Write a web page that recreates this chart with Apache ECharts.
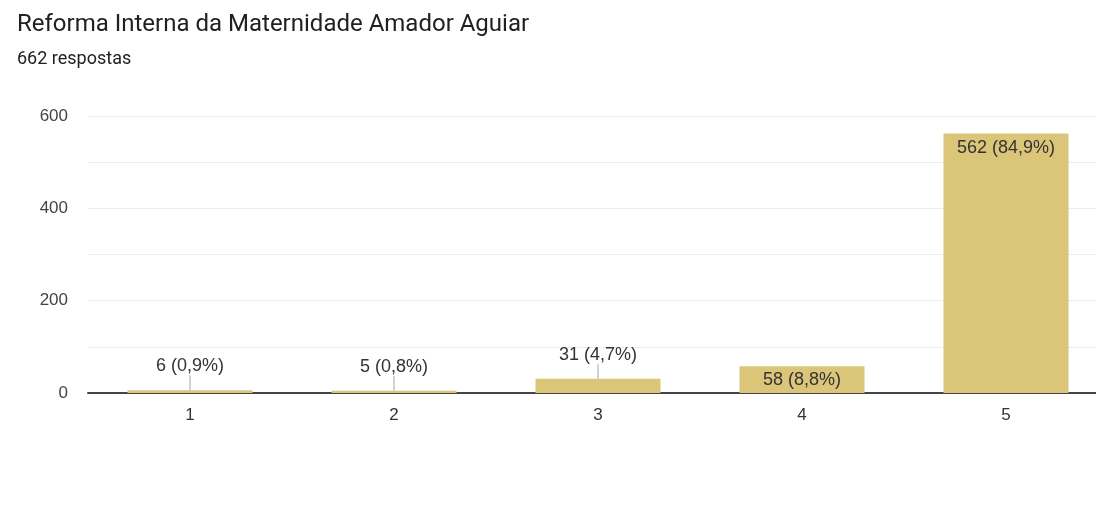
<!DOCTYPE html>
<html>
<head>
<meta charset="utf-8">
<script src="https://cdn.jsdelivr.net/npm/echarts@6/dist/echarts.min.js"></script>
<style>
html,body{margin:0;padding:0;background:#fff;}
#main{width:1096px;height:506px;}
</style>
</head>
<body>
<div id="main"></div>
<script>
var categories = ['1', '2', '3', '4', '5'];
var counts = [6, 5, 31, 58, 562];
var percents = ['0,9%', '0,8%', '4,7%', '8,8%', '84,9%'];
var yTicks = [0, 200, 400, 600];

var chart = echarts.init(document.getElementById('main'));
var font = '"Liberation Sans", Arial, sans-serif';

var data = counts.map(function (v, i) {
  var outside = v < 40;
  var d = { value: v };
  if (outside) {
    d.label = {
      position: 'top',
      distance: 0,
      formatter: '{t|' + v + ' (' + percents[i] + ')}\n{l|}',
      rich: {
        t: { fontSize: 18, color: '#333', fontFamily: font, lineHeight: 18, align: 'center' },
        l: { width: 1, height: 15, backgroundColor: '#a8a8a8', align: 'center' }
      }
    };
  } else {
    d.label = {
      position: 'insideTop',
      distance: 5,
      formatter: v + ' (' + percents[i] + ')'
    };
  }
  return d;
});

chart.setOption({
  animation: false,
  title: {
    text: 'Reforma Interna da Maternidade Amador Aguiar',
    subtext: '662 respostas',
    left: 12,
    top: 8,
    itemGap: 13,
    textStyle: { fontFamily: 'Roboto, sans-serif', fontSize: 24, fontWeight: 'normal', color: '#202124' },
    subtextStyle: { fontFamily: 'Roboto, sans-serif', fontSize: 18, color: '#202124' }
  },
  grid: { left: 88, width: 1020, top: 116, height: 277, containLabel: false, outerBoundsMode: 'none' },
  xAxis: {
    type: 'category',
    data: categories,
    axisLine: { show: true, lineStyle: { color: '#444', width: 2 } },
    axisTick: { show: false },
    axisLabel: { color: '#333', fontSize: 17, fontFamily: font, margin: 14 }
  },
  yAxis: {
    type: 'value',
    min: 0,
    max: 600,
    interval: 100,
    axisLine: { show: false },
    axisTick: { show: false },
    splitLine: { lineStyle: { color: '#ececec', width: 1 } },
    axisLabel: {
      color: '#444', fontSize: 17, fontFamily: font, margin: 20,
      formatter: function (v) { return yTicks.indexOf(v) >= 0 ? String(v) : ''; }
    }
  },
  series: [{
    type: 'bar',
    data: data,
    barWidth: 125,
    itemStyle: { color: '#dbc578' },
    label: { show: true, color: '#333', fontSize: 18, fontFamily: font }
  }]
});
</script>
</body>
</html>
